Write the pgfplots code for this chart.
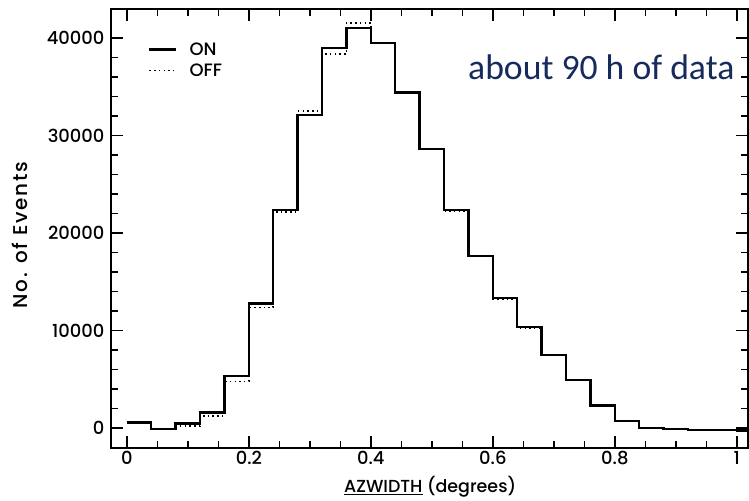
\documentclass[border=0pt]{standalone}
\usepackage{pgfplots}
\pgfplotsset{compat=1.18}
\usepackage{fontspec}
\setmainfont{Poppins}[UprightFont=* Medium]
\newfontfamily\calib{Carlito}
\newfontfamily\wide{Poppins}[UprightFont=* Medium, LetterSpace=9]
\definecolor{navy}{RGB}{22,42,92}
\pgfplotstableread{
x on off
0.00 550 450
0.04 -70 -70
0.08 450 230
0.12 1610 1240
0.16 5360 4760
0.20 12780 12370
0.24 22400 22200
0.28 32150 32500
0.32 38970 38380
0.36 41030 41580
0.40 39480 39480
0.44 34430 34500
0.48 28660 28660
0.52 22370 22300
0.56 17660 17600
0.60 13330 13250
0.64 10340 10250
0.68 7490 7450
0.72 4910 4910
0.76 2320 2350
0.80 720 720
0.84 30 30
0.88 -130 -130
0.92 -180 -180
0.96 -220 -220
1.00 -260 -260
1.04 -260 -260
}\hist
\begin{document}
\begin{tikzpicture}[x=1bp,y=1bp]
\useasboundingbox (-111,-53) rectangle (638,448);
\begin{axis}[
  at={(0,0)}, anchor=south west,
  scale only axis, width=637bp, height=439bp,
  xmin=-0.026, xmax=1.0183, ymin=-2050, ymax=43000,
  xtick={0,0.2,0.4,0.6,0.8,1},
  xticklabels={0,0.2,0.4,0.6,0.8,1},
  ytick={0,10000,20000,30000,40000},
  yticklabels={0,10000,20000,30000,40000},
  minor x tick num=3, minor y tick num=4,
  tick align=inside,
  major tick length=12bp, minor tick length=7bp,
  every tick/.style={black, line width=1.5bp},
  axis line style={line width=1.5bp},
  tick label style={font=\fontsize{18}{20}\selectfont},
  yticklabel style={xshift=-3bp},
  xticklabel style={yshift=0bp},
  clip mode=individual,
  legend style={draw=none, fill=none, at={(axis description cs:0.0581,0.8838)}, anchor=west,
    font=\fontsize{18}{20}\selectfont, row sep=7bp, inner sep=0pt,
    nodes={inner sep=0pt}},
  legend cell align=left,
  legend image code/.code={\draw[#1] (0bp,0bp) -- (27bp,0bp);},
  /tikz/every odd column/.append style={column sep=12bp},
]
\addplot[const plot, black, line width=2.4bp] table[x=x,y=on] {\hist};
\addlegendentry{ON}
\addplot[const plot, black, line width=1.7bp, dash pattern=on 1.5bp off 3.2bp] table[x=x,y=off] {\hist};
\addlegendentry{OFF}
\node[rotate=90, font=\wide\fontsize{20}{22}\selectfont] at (axis description cs:-0.143,0.485) {No. of Events};
\node[font=\fontsize{17.5}{21}\selectfont] at (axis description cs:0.501,-0.089) {\underline{AZWIDTH} (degrees)};
\node[anchor=base west, inner sep=0pt, text=navy, font=\calib\fontsize{35.8}{40}\selectfont] at (axis description cs:0.5604,0.8405) {about 90 h of data};
\end{axis}
\end{tikzpicture}
\end{document}
